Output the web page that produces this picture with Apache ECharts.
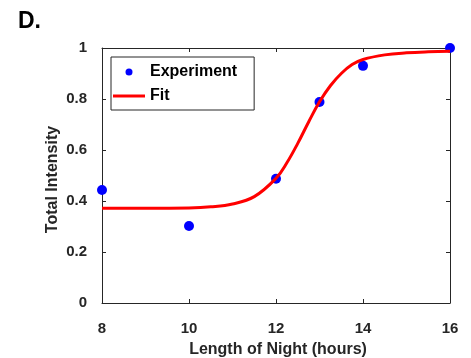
<!DOCTYPE html>
<html>
<head>
<meta charset="utf-8">
<script src="https://cdn.jsdelivr.net/npm/echarts@6/dist/echarts.min.js"></script>
<style>html,body{margin:0;padding:0;background:#fff;}#c{width:471px;height:358px;}</style>
</head>
<body>
<div id="c"></div>
<script>
// Experimental data
const expX = [8, 10, 12, 13, 14, 16];
const expY = [0.443, 0.302, 0.487, 0.788, 0.93, 1.0];
// Fit curve
const fitX = [8, 9, 10, 10.5, 11, 11.5, 12, 12.25, 12.5, 12.75, 13, 13.25, 13.5, 13.75, 14, 14.5, 15, 15.5, 16];
const fitY = [0.372, 0.372, 0.373, 0.377, 0.388, 0.417, 0.489, 0.55, 0.626, 0.71, 0.789, 0.852, 0.90, 0.935, 0.955, 0.973, 0.981, 0.985, 0.987];
const xTicks = [8, 10, 12, 14, 16];
const yTicks = [0, 0.2, 0.4, 0.6, 0.8, 1];

const FONT = 'Liberation Sans, Arial, Helvetica, sans-serif';
const AX = '#262626';
const chart = echarts.init(document.getElementById('c'), null, {renderer: 'canvas'});
const tickCommon = {show: true, inside: true, length: 4, lineStyle: {color: AX, width: 1}};
chart.setOption({
  animation: false,
  backgroundColor: '#fff',
  title: {text: 'D.', left: 18, top: 10, padding: 0, textStyle: {fontFamily: FONT, fontSize: 23, fontWeight: 'bold', color: '#000'}},
  grid: {left: 102, right: 21, top: 48, bottom: 55, containLabel: false, outerBoundsMode: 'none'},
  legend: {
    orient: 'vertical', left: 111, top: 57,
    padding: [7, 17, 6, 2],
    itemWidth: 32, itemHeight: 7, itemGap: 8,
    borderColor: AX, borderWidth: 1, backgroundColor: '#fff',
    textStyle: {fontFamily: FONT, fontSize: 16, fontWeight: 'bold', color: '#000'},
    data: [
      {name: 'Experiment', icon: 'circle', itemStyle: {color: '#0000ff', opacity: 1}},
      {name: 'Fit', icon: 'path://M0,0 L32,0 L32,3 L0,3 Z', itemStyle: {color: '#ff0000'}}
    ]
  },
  xAxis: [
    {type: 'value', position: 'bottom', min: 8, max: 16, interval: 2,
     name: 'Length of Night (hours)', nameLocation: 'middle', nameGap: 39, nameMoveOverlap: false,
     nameTextStyle: {fontFamily: FONT, fontSize: 16, fontWeight: 'bold', color: AX, padding: [0, 0, 0, 4]},
     axisLine: {show: true, onZero: false, lineStyle: {color: AX, width: 1}},
     axisTick: tickCommon, splitLine: {show: false},
     axisLabel: {margin: 18, fontFamily: FONT, fontSize: 15, fontWeight: 'bold', color: AX,
       formatter: v => xTicks.includes(v) ? String(v) : ''}},
    {type: 'value', position: 'top', min: 8, max: 16, interval: 2,
     axisLine: {show: true, onZero: false, lineStyle: {color: AX, width: 1}},
     axisTick: tickCommon, splitLine: {show: false}, axisLabel: {show: false}}
  ],
  yAxis: [
    {type: 'value', position: 'left', min: 0, max: 1, interval: 0.2,
     name: 'Total Intensity', nameLocation: 'middle', nameGap: 41, nameRotate: 90, nameMoveOverlap: false,
     nameTextStyle: {fontFamily: FONT, fontSize: 16, fontWeight: 'bold', color: AX, padding: [0, 8, 0, 0]},
     axisLine: {show: true, onZero: false, lineStyle: {color: AX, width: 1}},
     axisTick: tickCommon, splitLine: {show: false},
     axisLabel: {margin: 15, fontFamily: FONT, fontSize: 15, fontWeight: 'bold', color: AX,
       formatter: v => { const t = yTicks.find(q => Math.abs(q - v) < 1e-9); return t === undefined ? '' : String(t); }}},
    {type: 'value', position: 'right', min: 0, max: 1, interval: 0.2,
     axisLine: {show: true, onZero: false, lineStyle: {color: AX, width: 1}},
     axisTick: tickCommon, splitLine: {show: false}, axisLabel: {show: false}}
  ],
  series: [
    {name: 'Experiment', type: 'scatter', xAxisIndex: 0, yAxisIndex: 0, clip: false,
     symbol: 'circle', symbolSize: 10, itemStyle: {color: '#0000ff', opacity: 1},
     data: expX.map((x, i) => [x, expY[i]]), z: 3},
    {name: 'Fit', type: 'line', xAxisIndex: 0, yAxisIndex: 0, clip: false,
     showSymbol: false, symbol: 'none', smooth: 0.4,
     lineStyle: {color: '#ff0000', width: 3}, itemStyle: {color: '#ff0000'},
     data: fitX.map((x, i) => [x, fitY[i]]), z: 4}
  ]
});
</script>
</body>
</html>
